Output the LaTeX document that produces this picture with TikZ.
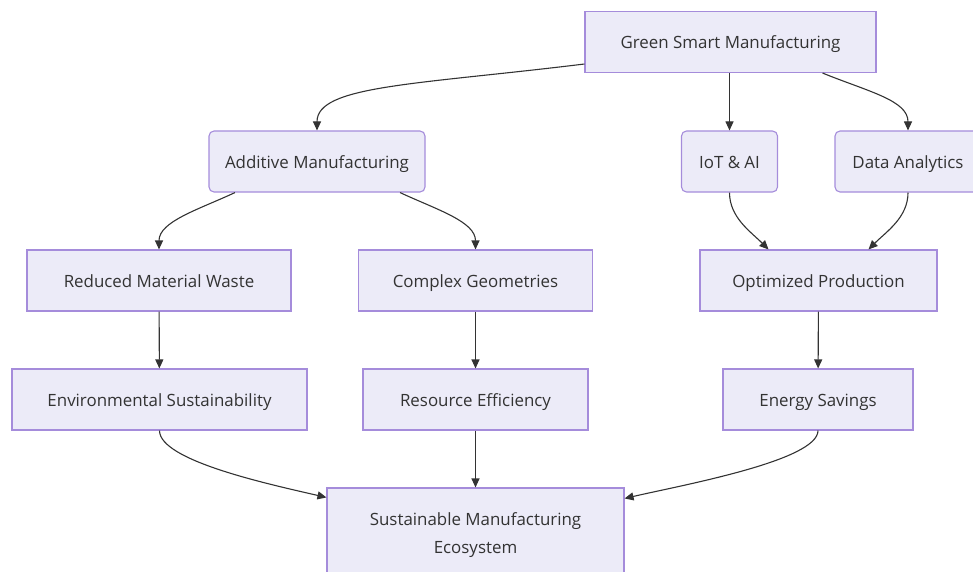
\documentclass[tikz,border=0pt]{standalone}
\usepackage{fontspec}
\setmainfont{Open Sans}
\usetikzlibrary{arrows.meta}

\definecolor{boxfill}{HTML}{ECEBF8}
\definecolor{boxline}{HTML}{A58CDB}
\definecolor{ink}{HTML}{333333}

\tikzset{
  box/.style={draw=boxline, fill=boxfill, line width=1.1pt, text=ink,
    minimum height=\boxh pt, inner sep=0pt, align=center,
    text height=17pt, text depth=4pt,
    font=\fontsize{16.9}{27.5}\selectfont},
  rbox/.style={box, rounded corners=5pt},
  flow/.style={draw=ink, line width=1.1pt,
    -{Triangle[length=9pt,width=8pt]}},
}

\begin{document}
\begin{tikzpicture}[x=1pt,y=1pt]
\def\boxh{61}
\useasboundingbox (0,0) rectangle (973,-572);

% top row
\node[box, minimum width=291pt] (gsm) at (730.5,-42) {Green Smart Manufacturing};
\node[rbox, minimum width=216pt] (am) at (317,-161.5) {Additive Manufacturing};
\node[rbox, minimum width=96pt] (iot) at (729.5,-161.5) {IoT \& AI};
\node[rbox, minimum width=146pt] (da) at (908,-161.5) {Data Analytics};

% middle rows
\node[box, minimum width=264pt] (rmw) at (159,-280.5) {Reduced Material Waste};
\node[box, minimum width=234pt] (cg) at (475.5,-280.5) {Complex Geometries};
\node[box, minimum width=237pt] (op) at (818.5,-280.5) {Optimized Production};
\node[box, minimum width=295pt] (env) at (159.5,-399.5) {Environmental Sustainability};
\node[box, minimum width=225pt] (re) at (475.5,-399.5) {Resource Efficiency};
\node[box, minimum width=190pt] (es) at (818,-399.5) {Energy Savings};

% sink, two lines of text, runs off the bottom edge
\node[box, minimum width=297pt, minimum height=94pt, text height=, text depth=]
  (sme) at (475.5,-535) {Sustainable Manufacturing\\Ecosystem};

\draw[flow] ([yshift=-22pt]gsm.west) to[out=187, in=90, out distance=170pt, in distance=45pt] (am.north);
\draw[flow] (iot.north |- gsm.south) -- (iot.north);
\draw[flow] ([xshift=92pt]gsm.south) to[out=-22, in=90, out distance=50pt, in distance=30pt] (da.north);

\draw[flow] ([xshift=-82pt]am.south) to[out=205, in=90, out distance=40pt, in distance=28pt] (rmw.north);
\draw[flow] ([xshift=83pt]am.south) to[out=-25, in=90, out distance=40pt, in distance=28pt] (cg.north);
\draw[flow] (iot.south) to[out=-90, in=135, out distance=25pt, in distance=25pt] ([xshift=-50pt]op.north);
\draw[flow] (da.south) to[out=-90, in=45, out distance=25pt, in distance=25pt] ([xshift=50pt]op.north);

\draw[flow] (rmw) -- (env);
\draw[flow] (cg) -- (re);
\draw[flow] (op) -- (es);

\draw[flow] (env.south) to[out=-90, in=167, out distance=30pt, in distance=60pt] ([yshift=-10pt]sme.north west);
\draw[flow] (re) -- (sme);
\draw[flow] (es.south) to[out=-90, in=13, out distance=30pt, in distance=60pt] ([yshift=-11pt]sme.north east);
\end{tikzpicture}
\end{document}
